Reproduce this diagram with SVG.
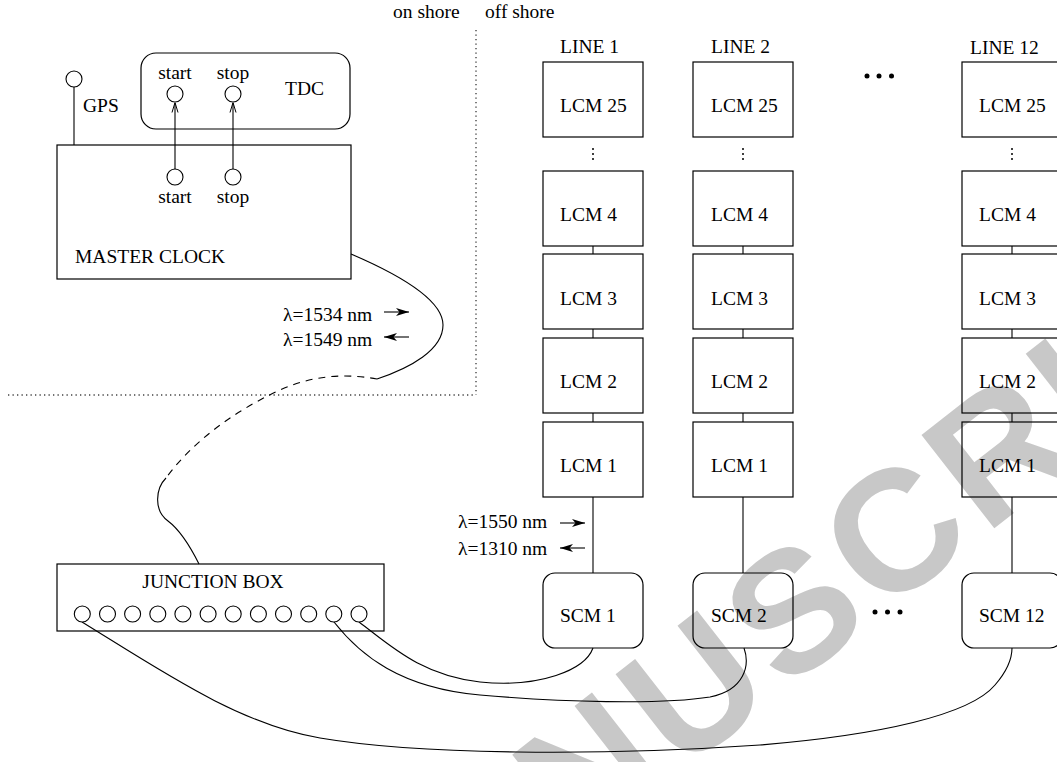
<svg xmlns="http://www.w3.org/2000/svg" width="1057" height="762" viewBox="0 0 1057 762">
<style>
text{font-family:"Liberation Serif","Times New Roman",serif;font-size:19.5px;fill:#000}
.box{fill:none;stroke:#000;stroke-width:1.2}
.ln{fill:none;stroke:#000;stroke-width:1.1}
.dot{fill:none;stroke:#444;stroke-width:1.4;stroke-dasharray:1.3 3.2}
.dash{fill:none;stroke:#000;stroke-width:1.1;stroke-dasharray:7 6}
.port{fill:#fff;stroke:#000;stroke-width:1.1}
.wm{font-family:"Liberation Sans",Arial,sans-serif;font-weight:bold;font-size:172px;letter-spacing:8px;fill:#c8c8c8}
</style>
<defs>
<marker id="fa" viewBox="0 0 13 8" refX="13" refY="4" markerWidth="13" markerHeight="8" markerUnits="userSpaceOnUse" orient="auto">
<path d="M0,0 L13,4 L0,8 L3.5,4 z" fill="#000"/>
</marker>
<marker id="oa" viewBox="0 0 10 8" refX="10" refY="4" markerWidth="10" markerHeight="8" markerUnits="userSpaceOnUse" orient="auto">
<path d="M0,1 L10,4 L0,7" fill="none" stroke="#000" stroke-width="1"/>
</marker>
</defs>
<rect width="1057" height="762" fill="#fff"/>
<text class="wm" x="836" y="652" text-anchor="middle" transform="rotate(-38 836 652)">MANUSCRIPT</text>

<g id="boundary">
<line class="dot" x1="476" y1="30" x2="476" y2="395"/>
<line class="dot" x1="8" y1="395" x2="476" y2="395"/>
<text x="393" y="18">on shore</text>
<text x="485" y="18">off shore</text>
</g>

<g id="connectors">
<line class="ln" x1="74" y1="87" x2="74" y2="145"/>
<line class="ln" x1="175" y1="169" x2="175" y2="102.5" marker-end="url(#oa)"/>
<line class="ln" x1="233" y1="169" x2="233" y2="102.5" marker-end="url(#oa)"/>
<path class="ln" d="M351,254 C400,275 443,300 443,325 C443,350 410,368 377,379"/>
<path class="dash" d="M377,379 C355,375 320,372 280,390 C230,413 190,445 166,478"/>
<path class="ln" d="M166,478 C156,488 153,510 168,521 C180,530 192,550 199,564"/>
<line class="ln" x1="593" y1="246" x2="593" y2="254"/>
<line class="ln" x1="593" y1="329" x2="593" y2="338"/>
<line class="ln" x1="593" y1="413" x2="593" y2="422"/>
<line class="ln" x1="593" y1="497" x2="593" y2="573"/>
<line class="ln" x1="743" y1="246" x2="743" y2="254"/>
<line class="ln" x1="743" y1="329" x2="743" y2="338"/>
<line class="ln" x1="743" y1="413" x2="743" y2="422"/>
<line class="ln" x1="743" y1="497" x2="743" y2="573"/>
<line class="ln" x1="1012" y1="246" x2="1012" y2="254"/>
<line class="ln" x1="1012" y1="329" x2="1012" y2="338"/>
<line class="ln" x1="1012" y1="413" x2="1012" y2="422"/>
<line class="ln" x1="1012" y1="497" x2="1012" y2="573"/>
<path class="ln" d="M359,622 C390,645 420,675 480,682 C540,688 585,670 593,648"/>
<path class="ln" d="M334,622 C360,655 400,688 480,695 C560,702 660,705 710,697 C745,690 750,665 744,648"/>
<path class="ln" d="M82,622 C160,670 240,725 320,738 C420,755 600,756 760,745 C880,735 970,715 995,685 C1008,670 1012,658 1012,648"/>
<line class="ln" x1="384" y1="312" x2="409" y2="312" marker-end="url(#fa)"/>
<line class="ln" x1="409" y1="337" x2="384" y2="337" marker-end="url(#fa)"/>
<line class="ln" x1="560" y1="523" x2="585" y2="523" marker-end="url(#fa)"/>
<line class="ln" x1="585" y1="548" x2="560" y2="548" marker-end="url(#fa)"/>
<text x="283" y="321">λ=1534 nm</text>
<text x="283" y="346">λ=1549 nm</text>
<text x="458" y="528">λ=1550 nm</text>
<text x="458" y="555">λ=1310 nm</text>
</g>

<g id="gps">
<circle class="port" cx="74" cy="79" r="8"/>
<text x="83" y="112">GPS</text>
</g>

<g id="tdc">
<rect class="box" x="141" y="53" width="209" height="76" rx="15"/>
<text x="175" y="79" text-anchor="middle">start</text>
<text x="233" y="79" text-anchor="middle">stop</text>
<circle class="port" cx="175" cy="94" r="8"/>
<circle class="port" cx="233" cy="94" r="8"/>
<text x="285" y="95">TDC</text>
</g>

<g id="master-clock">
<rect class="box" x="57" y="145" width="294" height="134"/>
<circle class="port" cx="175" cy="177" r="8"/>
<circle class="port" cx="233" cy="177" r="8"/>
<text x="175" y="203" text-anchor="middle">start</text>
<text x="233" y="203" text-anchor="middle">stop</text>
<text x="75" y="263">MASTER CLOCK</text>
</g>

<g id="junction-box">
<rect class="box" x="57" y="564" width="327" height="67"/>
<text x="213" y="588" text-anchor="middle">JUNCTION BOX</text>
<circle class="port" cx="82.3" cy="614" r="8"/>
<circle class="port" cx="107.5" cy="614" r="8"/>
<circle class="port" cx="132.6" cy="614" r="8"/>
<circle class="port" cx="157.8" cy="614" r="8"/>
<circle class="port" cx="182.9" cy="614" r="8"/>
<circle class="port" cx="208.1" cy="614" r="8"/>
<circle class="port" cx="233.2" cy="614" r="8"/>
<circle class="port" cx="258.4" cy="614" r="8"/>
<circle class="port" cx="283.5" cy="614" r="8"/>
<circle class="port" cx="308.7" cy="614" r="8"/>
<circle class="port" cx="333.8" cy="614" r="8"/>
<circle class="port" cx="359" cy="614" r="8"/>
</g>

<g id="line1-labels">
<text x="560" y="53">LINE 1</text>
<circle cx="593" cy="149" r="1"/><circle cx="593" cy="154" r="1"/><circle cx="593" cy="159" r="1"/>
</g>
<g id="line1-lcm25"><rect class="box" x="543" y="62" width="100" height="75"/><text x="560" y="112">LCM 25</text></g>
<g id="line1-lcm4"><rect class="box" x="543" y="171" width="100" height="75"/><text x="560" y="221">LCM 4</text></g>
<g id="line1-lcm3"><rect class="box" x="543" y="254" width="100" height="75"/><text x="560" y="305">LCM 3</text></g>
<g id="line1-lcm2"><rect class="box" x="543" y="338" width="100" height="75"/><text x="560" y="388">LCM 2</text></g>
<g id="line1-lcm1"><rect class="box" x="543" y="422" width="100" height="75"/><text x="560" y="472">LCM 1</text></g>
<g id="scm1"><rect class="box" x="543" y="573" width="100" height="75" rx="12"/><text x="560" y="622">SCM 1</text></g>

<g id="line2-labels">
<text x="711" y="53">LINE 2</text>
<circle cx="743" cy="149" r="1"/><circle cx="743" cy="154" r="1"/><circle cx="743" cy="159" r="1"/>
</g>
<g id="line2-lcm25"><rect class="box" x="693" y="62" width="100" height="75"/><text x="711" y="112">LCM 25</text></g>
<g id="line2-lcm4"><rect class="box" x="693" y="171" width="100" height="75"/><text x="711" y="221">LCM 4</text></g>
<g id="line2-lcm3"><rect class="box" x="693" y="254" width="100" height="75"/><text x="711" y="305">LCM 3</text></g>
<g id="line2-lcm2"><rect class="box" x="693" y="338" width="100" height="75"/><text x="711" y="388">LCM 2</text></g>
<g id="line2-lcm1"><rect class="box" x="693" y="422" width="100" height="75"/><text x="711" y="472">LCM 1</text></g>
<g id="scm2"><rect class="box" x="693" y="573" width="100" height="75" rx="12"/><text x="711" y="622">SCM 2</text></g>

<g id="ellipsis">
<circle cx="867" cy="76" r="2.5"/><circle cx="879" cy="76" r="2.5"/><circle cx="891.5" cy="76" r="2.5"/>
<circle cx="875" cy="612" r="2.5"/><circle cx="887.5" cy="612" r="2.5"/><circle cx="900" cy="612" r="2.5"/>
</g>

<g id="line12-labels">
<text x="970" y="54">LINE 12</text>
<circle cx="1012" cy="149" r="1"/><circle cx="1012" cy="154" r="1"/><circle cx="1012" cy="159" r="1"/>
</g>
<g id="line12-lcm25"><rect class="box" x="962" y="62" width="100" height="75"/><text x="979" y="112">LCM 25</text></g>
<g id="line12-lcm4"><rect class="box" x="962" y="171" width="100" height="75"/><text x="979" y="221">LCM 4</text></g>
<g id="line12-lcm3"><rect class="box" x="962" y="254" width="100" height="75"/><text x="979" y="305">LCM 3</text></g>
<g id="line12-lcm2"><rect class="box" x="962" y="338" width="100" height="75"/><text x="979" y="388">LCM 2</text></g>
<g id="line12-lcm1"><rect class="box" x="962" y="422" width="100" height="75"/><text x="979" y="472">LCM 1</text></g>
<g id="scm12"><rect class="box" x="962" y="573" width="100" height="75" rx="12"/><text x="979" y="622">SCM 12</text></g>
</svg>
